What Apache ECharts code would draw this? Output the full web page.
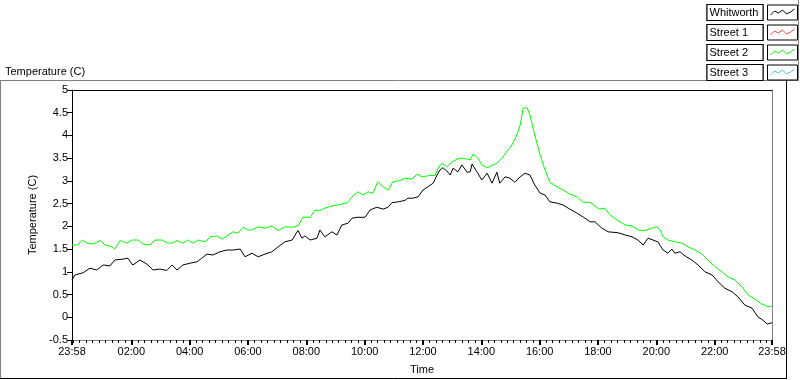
<!DOCTYPE html>
<html><head><meta charset="utf-8">
<script src="https://cdn.jsdelivr.net/npm/echarts@6/dist/echarts.min.js"></script>
<style>html,body{margin:0;padding:0;background:#fff}#c{width:800px;height:380px}</style>
</head><body><div id="c"></div>
<script>
// time in minutes since 23:58 (start of record), temperature in °C
const seriesNames = ['Whitworth', 'Street 1', 'Street 2', 'Street 3'];
const seriesColors = ['#000000', '#ff4040', '#00ff00', '#40c0ff'];

const whitworth = [[0,0.82],[6,0.93],[23,0.98],[37,1.08],[51,1.04],[64,1.15],[78,1.13],[88,1.26],[105,1.28],[115,1.30],[125,1.15],[140,1.26],[154,1.17],[167,1.04],[181,1.06],[195,1.03],[206,1.15],[216,1.04],[228,1.15],[243,1.19],[257,1.22],[267,1.30],[278,1.39],[290,1.37],[304,1.44],[319,1.48],[331,1.48],[346,1.50],[356,1.33],[370,1.41],[383,1.33],[397,1.39],[411,1.44],[424,1.55],[438,1.66],[453,1.70],[459,1.81],[465,1.91],[473,1.74],[479,1.79],[490,1.70],[504,1.74],[510,1.92],[520,1.77],[535,1.88],[545,1.81],[555,2.03],[568,2.07],[576,2.18],[588,2.20],[603,2.20],[613,2.36],[627,2.42],[640,2.38],[650,2.42],[658,2.52],[671,2.54],[685,2.57],[691,2.62],[701,2.62],[712,2.65],[716,2.69],[722,2.80],[743,2.95],[751,3.13],[757,3.24],[763,3.29],[771,3.22],[778,3.13],[784,3.28],[794,3.20],[802,3.35],[813,3.19],[819,3.20],[823,3.37],[833,3.20],[843,3.02],[854,3.17],[864,2.95],[874,3.19],[880,2.95],[891,3.09],[901,3.06],[911,2.97],[922,3.09],[932,3.17],[942,3.13],[952,2.91],[963,2.73],[973,2.69],[983,2.54],[998,2.51],[1010,2.47],[1024,2.38],[1039,2.29],[1051,2.21],[1066,2.10],[1076,2.10],[1090,1.96],[1103,1.88],[1123,1.86],[1138,1.81],[1152,1.77],[1164,1.70],[1175,1.59],[1185,1.74],[1195,1.70],[1205,1.66],[1216,1.48],[1226,1.41],[1234,1.50],[1240,1.41],[1251,1.44],[1261,1.35],[1275,1.26],[1288,1.15],[1302,1.00],[1317,0.93],[1329,0.78],[1343,0.64],[1358,0.56],[1370,0.45],[1384,0.27],[1399,0.20],[1411,0.01],[1421,-0.06],[1430,-0.15],[1440,-0.12]];

const street1 = [];

const street2 = [[0,1.59],[12,1.59],[21,1.70],[31,1.63],[43,1.61],[58,1.69],[68,1.59],[82,1.55],[88,1.50],[99,1.69],[113,1.63],[123,1.70],[136,1.70],[146,1.61],[160,1.59],[171,1.70],[185,1.70],[195,1.64],[206,1.63],[216,1.69],[228,1.63],[239,1.70],[249,1.63],[259,1.70],[274,1.66],[284,1.77],[298,1.79],[309,1.72],[319,1.79],[331,1.88],[341,1.85],[352,1.98],[362,1.92],[370,1.92],[383,1.99],[397,1.96],[411,2.01],[424,1.91],[438,1.99],[453,1.98],[465,2.01],[475,2.20],[490,2.20],[500,2.36],[510,2.35],[520,2.40],[535,2.45],[545,2.47],[555,2.49],[566,2.52],[576,2.65],[588,2.76],[599,2.69],[609,2.76],[619,2.73],[629,2.98],[640,2.87],[650,2.80],[660,2.98],[675,3.01],[685,3.06],[699,3.04],[710,3.15],[720,3.09],[736,3.12],[747,3.12],[753,3.28],[761,3.39],[771,3.31],[782,3.42],[792,3.48],[802,3.50],[813,3.48],[819,3.46],[825,3.59],[835,3.50],[843,3.35],[854,3.29],[864,3.34],[874,3.39],[885,3.50],[895,3.66],[905,3.79],[915,4.01],[922,4.23],[928,4.60],[936,4.61],[942,4.45],[952,4.01],[963,3.57],[973,3.24],[983,2.97],[998,2.87],[1010,2.80],[1024,2.71],[1039,2.65],[1051,2.53],[1066,2.53],[1080,2.41],[1086,2.38],[1096,2.40],[1107,2.25],[1121,2.14],[1138,2.03],[1152,2.01],[1164,1.92],[1179,1.91],[1193,1.96],[1203,1.99],[1210,1.92],[1216,1.77],[1226,1.70],[1240,1.66],[1255,1.63],[1267,1.55],[1282,1.48],[1296,1.39],[1308,1.26],[1323,1.11],[1337,1.00],[1349,0.89],[1364,0.82],[1378,0.67],[1391,0.49],[1405,0.40],[1419,0.29],[1432,0.23],[1440,0.25]];

const street3 = [];

const majorTickMinutes = [0, 122, 242, 362, 482, 602, 722, 842, 962, 1082, 1202, 1322, 1440];
const majorTickLabels = ['23:58', '02:00', '04:00', '06:00', '08:00', '10:00', '12:00', '14:00', '16:00', '18:00', '20:00', '22:00', '23:58'];
const minorTickMinutes = [];
for (let k = 0; k <= 107; k++) minorTickMinutes.push(2 + k * 120 / 9);

const FONT = 'Liberation Sans, Arial, sans-serif';
const seriesData = [whitworth, street1, street2, street3];

const chart = echarts.init(document.getElementById('c'), null, {renderer: 'canvas'});

const legendBase = {
  orient: 'vertical', right: 2, top: 4, padding: 0, align: 'right',
  itemWidth: 30, itemHeight: 15, itemGap: 3, selectedMode: false,
  formatter: name => '{t|' + name + '}',
  textStyle: {
    rich: {
      t: {
        fontSize: 11, color: '#000', fontFamily: FONT, align: 'left',
        width: 51, height: 13, lineHeight: 13, padding: [1, 2, 1, 2],
        borderColor: '#000', borderWidth: 1, backgroundColor: '#fff'
      }
    }
  }
};

chart.setOption({
  animation: false,
  backgroundColor: '#fff',
  textStyle: {fontFamily: FONT},
  title: {
    text: 'Temperature (C)', left: 5, top: 66, padding: 0,
    textStyle: {fontSize: 11, fontWeight: 'normal', color: '#000', fontFamily: FONT}
  },
  legend: [
    Object.assign({}, legendBase, {
      z: 4,
      icon: 'rect',
      data: seriesNames.map(n => ({name: n, itemStyle: {color: '#fff', borderColor: '#000', borderWidth: 1}}))
    }),
    Object.assign({}, legendBase, {
      z: 5,
      icon: 'path://M0,0 M30,15 M3,10 L7,6 L11,8 L15,5 L19,9 L23,7 L27,4',
      data: seriesNames.map((n, i) => ({name: n, itemStyle: {color: 'transparent', borderColor: seriesColors[i], borderWidth: 1}}))
    })
  ],
  grid: {left: 72, right: 28, top: 90, bottom: 40, containLabel: false},
  xAxis: [
    {
      type: 'value', min: 0, max: 1440, position: 'bottom',
      name: 'Time', nameLocation: 'middle', nameGap: 24,
      nameTextStyle: {fontSize: 11, color: '#000', fontFamily: FONT},
      axisLine: {onZero: false, lineStyle: {color: '#808080', width: 1}},
      axisTick: {customValues: majorTickMinutes, length: 5, lineStyle: {color: '#000', width: 2}},
      axisLabel: {
        customValues: majorTickMinutes, color: '#000', fontSize: 11, margin: 6, fontFamily: FONT,
        formatter: v => { const i = majorTickMinutes.indexOf(Math.round(v)); return i >= 0 ? majorTickLabels[i] : ''; }
      },
      splitLine: {show: false}
    },
    {
      type: 'value', min: 0, max: 1440, position: 'bottom',
      axisLine: {show: false, onZero: false},
      axisTick: {customValues: minorTickMinutes, length: 3, lineStyle: {color: '#000', width: 1}},
      axisLabel: {show: false},
      splitLine: {show: false}
    },
    {
      type: 'value', min: 0, max: 1440, position: 'top',
      axisLine: {onZero: false, lineStyle: {color: '#000', width: 1}},
      axisTick: {show: false}, axisLabel: {show: false}, splitLine: {show: false}
    }
  ],
  yAxis: [
    {
      type: 'value', min: -0.5, max: 5, interval: 0.5, position: 'left',
      name: 'Temperature (C)', nameLocation: 'middle', nameRotate: 90, nameGap: 33,
      nameTextStyle: {fontSize: 11, color: '#000', fontFamily: FONT},
      axisLine: {show: true, onZero: false, lineStyle: {color: '#000', width: 1}},
      axisTick: {show: true, length: 5, lineStyle: {color: '#000'}},
      axisLabel: {color: '#000', fontSize: 11, margin: 4, fontFamily: FONT},
      splitLine: {show: false}
    },
    {
      type: 'value', min: -0.5, max: 5, interval: 0.5, position: 'right',
      axisLine: {show: true, onZero: false, lineStyle: {color: '#808080', width: 1}},
      axisTick: {show: false}, axisLabel: {show: false}, splitLine: {show: false}
    }
  ],
  series: seriesNames.map((n, i) => ({
    name: n, type: 'line', xAxisIndex: 0, yAxisIndex: 0,
    data: seriesData[i], showSymbol: false, symbol: 'none',
    color: seriesColors[i],
    lineStyle: {color: seriesColors[i], width: 1},
    z: i === 0 ? 3 : 2
  })),
  graphic: [
    {type: 'line', silent: true, shape: {x1: 0, y1: 80.5, x2: 799, y2: 80.5}, style: {stroke: '#808080', lineWidth: 1}},
    {type: 'line', silent: true, shape: {x1: 0.5, y1: 80, x2: 0.5, y2: 379}, style: {stroke: '#808080', lineWidth: 1}},
    {type: 'line', silent: true, shape: {x1: 0, y1: 378.5, x2: 787, y2: 378.5}, style: {stroke: '#000', lineWidth: 1}},
    {type: 'line', silent: true, shape: {x1: 786.5, y1: 80, x2: 786.5, y2: 379}, style: {stroke: '#000', lineWidth: 1}},
    {type: 'line', silent: true, shape: {x1: 798.5, y1: 0, x2: 798.5, y2: 81}, style: {stroke: '#808080', lineWidth: 1}}
  ]
});
</script>
</body></html>
